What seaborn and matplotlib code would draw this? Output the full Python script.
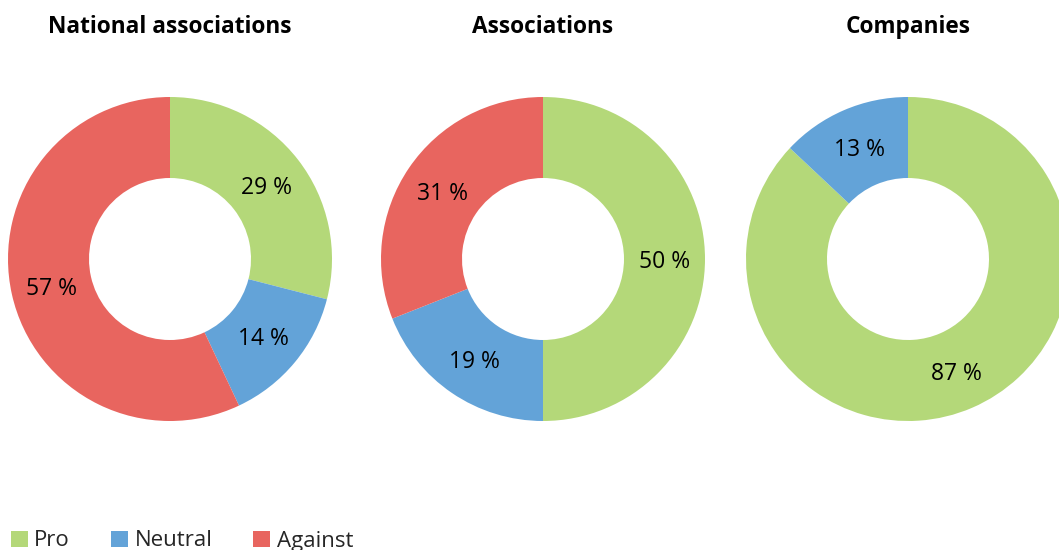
import matplotlib
matplotlib.use("Agg")
import matplotlib.pyplot as plt
from matplotlib.patches import Patch
import seaborn as sns

sns.set_theme(style="white")
plt.rcParams['font.family'] = ['Open Sans', 'DejaVu Sans']

titles = ["National associations", "Associations", "Companies"]
categories = ["Pro", "Neutral", "Against"]
pro = [29, 50, 87]
neutral = [14, 19, 13]
against = [57, 31, 0]
colors = ["#b4d879", "#63a3d8", "#e8655f"]

W, H = 1059, 550
fig = plt.figure(figsize=(W / 100, H / 100), dpi=100)
fig.patch.set_facecolor("white")

centers_x = [170, 543, 908]
center_y = 259
R = 162

for i, title in enumerate(titles):
    vals = [pro[i], neutral[i], against[i]]
    left = (centers_x[i] - R) / W
    bottom = (H - center_y - R) / H
    ax = fig.add_axes([left, bottom, 2 * R / W, 2 * R / H])
    keep = [(v, c) for v, c in zip(vals, colors) if v > 0]
    wedges, texts = ax.pie(
        [v for v, _ in keep],
        colors=[c for _, c in keep],
        startangle=90,
        counterclock=False,
        radius=1.0,
        wedgeprops=dict(width=0.5, edgecolor="none"),
        labels=[f"{v} %" for v, _ in keep],
        labeldistance=0.75,
        textprops=dict(fontsize=16.5, color="#000000"),
    )
    for t in texts:
        t.set_ha("center")
        t.set_va("center_baseline")
    ax.set_xlim(-1, 1)
    ax.set_ylim(-1, 1)
    ax.set_aspect("equal")
    ax.axis("off")
    fig.text(centers_x[i] / W, 1 - 27 / H, title, ha="center", va="center",
             fontsize=16.3, fontweight="bold", color="#000000")

handles = [Patch(facecolor=c, edgecolor="none") for c in colors]
leg = fig.legend(handles, categories, loc="center left",
                 bbox_to_anchor=(0.004, 1 - 541 / H), ncol=3, frameon=False,
                 fontsize=16, handlelength=0.75, handleheight=0.75,
                 handletextpad=0.3, columnspacing=1.85, borderaxespad=0,
                 borderpad=0.3)

fig.savefig("out.png", dpi=100, facecolor="white")
